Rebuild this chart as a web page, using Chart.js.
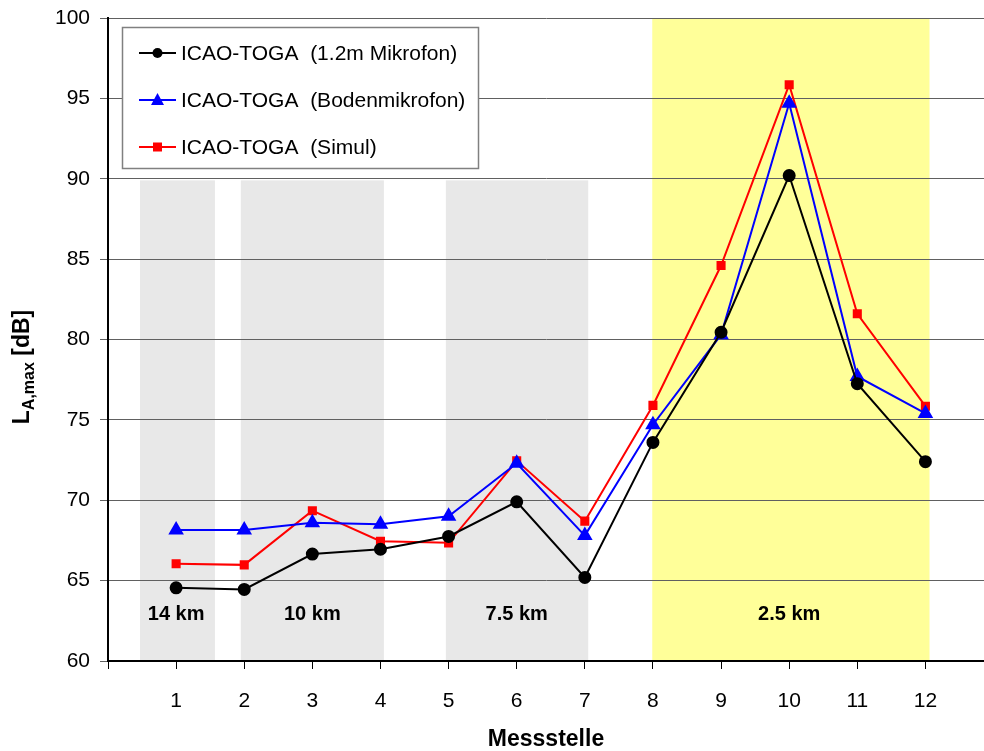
<!DOCTYPE html>
<html><head><meta charset="utf-8">
<script src="https://cdn.jsdelivr.net/npm/chart.js@4.4.0/dist/chart.umd.min.js"></script>
<style>html,body{margin:0;padding:0;background:#fff;overflow:hidden}#wrap{width:984px;height:751px}</style>
</head><body><div id="wrap"><canvas id="c" width="984" height="751"></canvas></div>
<script>
const categories = [1,2,3,4,5,6,7,8,9,10,11,12];
const seriesNames = ['ICAO-TOGA  (1.2m Mikrofon)','ICAO-TOGA  (Bodenmikrofon)','ICAO-TOGA  (Simul)'];
const mikrofon12 = [64.55,64.45,66.65,66.95,67.75,69.9,65.2,73.6,80.45,90.2,77.25,72.4];
const bodenmikrofon = [68.15,68.15,68.6,68.5,69.0,72.3,67.8,74.7,80.3,94.7,77.7,75.4];
const simul = [66.05,65.98,69.35,67.45,67.35,72.45,68.7,75.9,84.6,95.85,81.6,75.85];
const yTicks = [60,65,70,75,80,85,90,95,100];
const bandLabels = ['14 km','10 km','7.5 km','2.5 km'];
const bandStart = [0.47,1.95,4.96,7.99];
const bandEnd = [1.57,4.05,7.05,12.06];
const bandTop = [89.9,89.9,89.9,100];
const bandCenter = [1,3,6,10];
const bandColors = ['#e8e8e8','#e8e8e8','#e8e8e8','#ffff99'];

const F = '"Liberation Sans", Arial, sans-serif';
const mk = (vals)=>categories.map((c,i)=>({x:c,y:vals[i]}));

const bgPlugin = {
  id:'bg',
  beforeDraw(chart){
    const {ctx, chartArea:a, scales:{x,y}} = chart;
    ctx.save();
    ctx.fillStyle='#fff'; ctx.fillRect(0,0,chart.width,chart.height);
    for(let i=0;i<bandLabels.length;i++){
      const x0=x.getPixelForValue(bandStart[i]), x1=x.getPixelForValue(bandEnd[i]);
      const y0=y.getPixelForValue(bandTop[i]);
      ctx.fillStyle=bandColors[i];
      ctx.fillRect(x0,y0,x1-x0,a.bottom-y0);
    }
    ctx.restore();
  },
  beforeDatasetsDraw(chart){
    const {ctx, scales:{x,y}} = chart;
    ctx.save();
    ctx.fillStyle='#000'; ctx.font='bold 20px '+F; ctx.textAlign='center'; ctx.textBaseline='middle';
    for(let i=0;i<bandLabels.length;i++){
      ctx.fillText(bandLabels[i], x.getPixelForValue(bandCenter[i]), y.getPixelForValue(62.9));
    }
    ctx.restore();
  },
  afterDatasetsDraw(chart){
    const {ctx} = chart;
    ctx.save();
    const L=122.5,T=27.5,W=356,H=141;
    ctx.fillStyle='#fff'; ctx.fillRect(L,T,W,H);
    ctx.strokeStyle='#808080'; ctx.lineWidth=1.5; ctx.strokeRect(L,T,W,H);
    const rows=[53,100,147];
    ctx.font='21px '+F; ctx.textBaseline='middle'; ctx.textAlign='left';
    chart.data.datasets.forEach((ds,i)=>{
      const yy=rows[i];
      ctx.strokeStyle=ds.borderColor; ctx.lineWidth=2;
      ctx.beginPath(); ctx.moveTo(139,yy); ctx.lineTo(176,yy); ctx.stroke();
      ctx.fillStyle=ds.pointBackgroundColor;
      const cx=157.5;
      if(ds.pointStyle==='circle'){ctx.beginPath();ctx.arc(cx,yy,5,0,Math.PI*2);ctx.fill();}
      else if(ds.pointStyle==='triangle'){ctx.beginPath();ctx.moveTo(cx,yy-7);ctx.lineTo(cx+6.5,yy+5);ctx.lineTo(cx-6.5,yy+5);ctx.closePath();ctx.fill();}
      else {ctx.fillRect(cx-4.5,yy-4.5,9,9);}
      ctx.fillStyle='#000';
      ctx.fillText(ds.label,181,yy+1);
    });
    ctx.restore();
  },
  afterDraw(chart){
    const {ctx} = chart;
    ctx.save();
    ctx.fillStyle='#000';
    ctx.font='bold 23px '+F; ctx.textAlign='center'; ctx.textBaseline='middle';
    ctx.fillText('Messstelle', 546, 740);
    ctx.translate(29,367); ctx.rotate(-Math.PI/2);
    const p1='L', p2='A,max', p3=' [dB]';
    ctx.font='bold 23px '+F; const w1=ctx.measureText(p1).width, w3=ctx.measureText(p3).width;
    ctx.font='bold 16px '+F; const w2=ctx.measureText(p2).width;
    let sx=-(w1+w2+w3)/2;
    ctx.textAlign='left'; ctx.textBaseline='alphabetic';
    ctx.font='bold 23px '+F; ctx.fillText(p1,sx,0); sx+=w1;
    ctx.font='bold 16px '+F; ctx.fillText(p2,sx,5); sx+=w2;
    ctx.font='bold 23px '+F; ctx.fillText(p3,sx,0);
    ctx.restore();
  }
};

new Chart(document.getElementById('c'),{
  type:'line',
  data:{datasets:[
    {label:seriesNames[0],data:mk(mikrofon12),borderColor:'#000',backgroundColor:'#000',pointBackgroundColor:'#000',pointBorderColor:'#000',pointStyle:'circle',pointRadius:5.5,borderWidth:2,tension:0},
    {label:seriesNames[1],data:mk(bodenmikrofon),borderColor:'#0000ff',backgroundColor:'#0000ff',pointBackgroundColor:'#0000ff',pointBorderColor:'#0000ff',pointStyle:'triangle',pointRadius:7,borderWidth:2,tension:0},
    {label:seriesNames[2],data:mk(simul),borderColor:'#ff0000',backgroundColor:'#ff0000',pointBackgroundColor:'#ff0000',pointBorderColor:'#ff0000',pointStyle:'rect',pointRadius:5,borderWidth:2,tension:0}
  ]},
  options:{
    responsive:false, animation:false, devicePixelRatio:1,
    layout:{autoPadding:false,padding:{top:18,right:0,left:0,bottom:0}},
    plugins:{legend:{display:false},tooltip:{enabled:false}},
    scales:{
      x:{type:'linear',min:0,max:12.86,
        afterBuildTicks(s){s.ticks=[0].concat(categories).map(v=>({value:v}));},
        afterFit(s){s.height=90; s.paddingLeft=0; s.paddingRight=0;},
        grid:{drawOnChartArea:false,drawTicks:true,tickLength:8,color:'#000',lineWidth:1},
        border:{color:'#000',width:2},
        ticks:{autoSkip:false,maxRotation:0,padding:20,color:'#000',font:{family:F,size:21},callback:(v)=>v===0?'':String(v)}
      },
      y:{min:60,max:100,
        afterBuildTicks(s){s.ticks=yTicks.map(v=>({value:v}));},
        afterFit(s){s.width=108; s.paddingTop=0; s.paddingBottom=0;},
        grid:{color:'#606060',lineWidth:1,tickLength:8,drawTicks:true},
        border:{color:'#000',width:2},
        ticks:{padding:10,color:'#000',font:{family:F,size:21}}
      }
    }
  },
  plugins:[bgPlugin]
});
</script></body></html>
